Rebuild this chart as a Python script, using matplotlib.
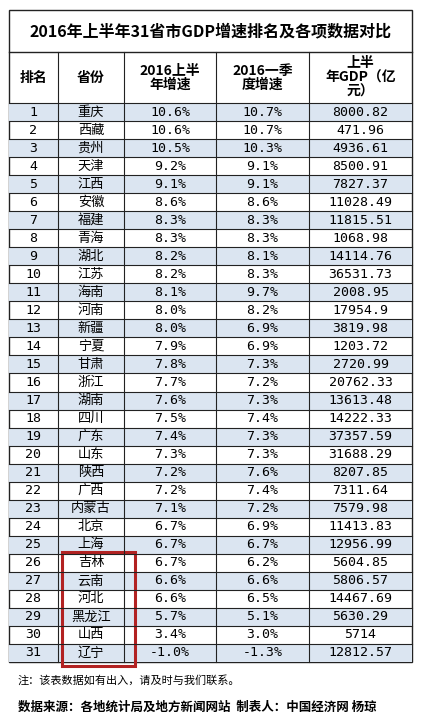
import matplotlib
matplotlib.use("Agg")
import matplotlib.pyplot as plt
from matplotlib.patches import Rectangle

plt.rcParams['font.family'] = ['Noto Sans CJK SC', 'DejaVu Sans']

ranks = list(range(1, 32))
provinces = ["重庆","西藏","贵州","天津","江西","安徽","福建","青海","湖北","江苏","海南","河南","新疆","宁夏","甘肃",
             "浙江","湖南","四川","广东","山东","陕西","广西","内蒙古","北京","上海","吉林","云南","河北","黑龙江","山西","辽宁"]
h1_growth = ["10.6%","10.6%","10.5%","9.2%","9.1%","8.6%","8.3%","8.3%","8.2%","8.2%","8.1%","8.0%","8.0%","7.9%","7.8%",
             "7.7%","7.6%","7.5%","7.4%","7.3%","7.2%","7.2%","7.1%","6.7%","6.7%","6.7%","6.6%","6.6%","5.7%","3.4%","-1.0%"]
q1_growth = ["10.7%","10.7%","10.3%","9.1%","9.1%","8.6%","8.3%","8.3%","8.1%","8.3%","9.7%","8.2%","6.9%","6.9%","7.3%",
             "7.2%","7.3%","7.4%","7.3%","7.3%","7.6%","7.4%","7.2%","6.9%","6.7%","6.2%","6.6%","6.5%","5.1%","3.0%","-1.3%"]
h1_gdp = ["8000.82","471.96","4936.61","8500.91","7827.37","11028.49","11815.51","1068.98","14114.76","36531.73","2008.95",
          "17954.9","3819.98","1203.72","2720.99","20762.33","13613.48","14222.33","37357.59","31688.29","8207.85","7311.64",
          "7579.98","11413.83","12956.99","5604.85","5806.57","14467.69","5630.29","5714","12812.57"]
headers = ["排名", "省份", "2016上半\n年增速", "2016一季\n度增速", "上半\n年GDP（亿\n元）"]
title = "2016年上半年31省市GDP增速排名及各项数据对比"

W, H = 421, 727
fig = plt.figure(figsize=(W/100, H/100), dpi=100)
ax = fig.add_axes([0, 0, 1, 1])
ax.set_xlim(0, W); ax.set_ylim(H, 0); ax.axis('off')

cols = [9, 58, 124, 216, 309, 412]
top, hdr_top, row0 = 10, 52, 103
rh = (662 - row0) / 31
lc = '#222222'

ax.add_patch(Rectangle((cols[0], top), cols[-1]-cols[0], 662-top, fill=False, ec=lc, lw=1))
ax.text(W/2, (top+hdr_top)/2, title, ha='center', va='center', fontsize=11.5, fontweight='bold')
ax.plot([cols[0], cols[-1]], [hdr_top]*2, color=lc, lw=1)
for i, h in enumerate(headers):
    ax.text((cols[i]+cols[i+1])/2, (hdr_top+row0)/2, h, ha='center', va='center', fontsize=10,
            fontweight='bold', linespacing=1.0)
for i in range(31):
    y = row0 + i*rh
    if i % 2 == 0:
        ax.add_patch(Rectangle((cols[0], y), cols[-1]-cols[0], rh, color='#dbe5f1', lw=0))
    ax.plot([cols[0], cols[-1]], [y]*2, color=lc, lw=0.8)
    vals = [str(ranks[i]), provinces[i], h1_growth[i], q1_growth[i], h1_gdp[i]]
    for j, v in enumerate(vals):
        ax.text((cols[j]+cols[j+1])/2, y+rh/2, v, ha='center', va='center', fontsize=9.5,
                family=['Noto Sans CJK SC', 'DejaVu Sans'] if j == 1 else ['DejaVu Sans Mono'])
for x in cols[1:-1]:
    ax.plot([x, x], [hdr_top, 662], color=lc, lw=0.8)

ax.add_patch(Rectangle((62, row0+25*rh - 2), 73, 6*rh + 6, fill=False, ec='#b22222', lw=2.2))

ax.text(18, 680, "注：该表数据如有出入，请及时与我们联系。", ha='left', va='center', fontsize=8)
ax.text(18, 707, "数据来源：各地统计局及地方新闻网站  制表人：中国经济网 杨琼", ha='left', va='center',
        fontsize=9, fontweight='bold')

fig.savefig("out.png", dpi=100, facecolor='white')
